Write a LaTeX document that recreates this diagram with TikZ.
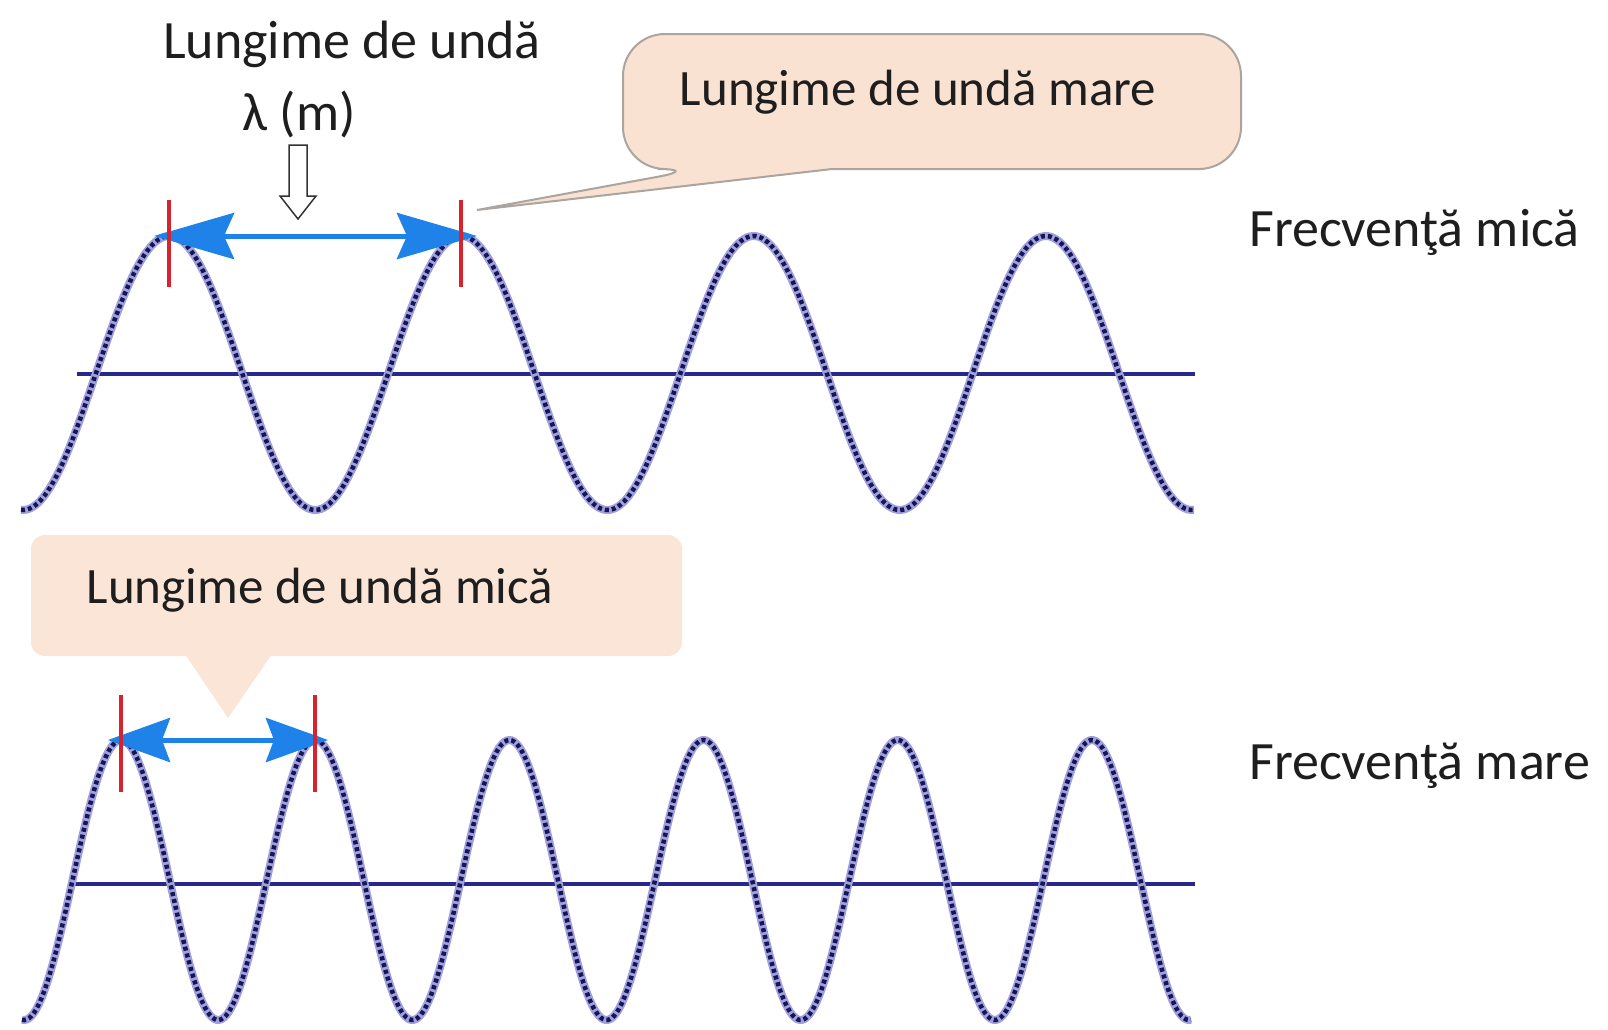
\documentclass[tikz,border=0pt]{standalone}
\usepackage{fontspec}
\setmainfont{Carlito}
\usetikzlibrary{arrows.meta}
\definecolor{navy}{RGB}{22,22,85}
\definecolor{wavelight}{RGB}{160,160,222}
\definecolor{midline}{RGB}{40,40,140}
\definecolor{arrowblue}{RGB}{30,130,232}
\definecolor{tickred}{RGB}{215,35,45}
\definecolor{peach}{RGB}{249,226,210}
\definecolor{peachsoft}{RGB}{251,229,214}
\definecolor{peachborder}{RGB}{172,164,158}
\definecolor{txtcol}{RGB}{30,30,30}
\begin{document}
\begin{tikzpicture}[x=1pt,y=-1pt,
  txt/.style={font=\fontsize{54}{60}\selectfont, text=txtcol, inner sep=0pt},
  ctxt/.style={font=\fontsize{51}{58}\selectfont, text=txtcol, inner sep=0pt},
  halo/.style={draw=wavelight, line width=8pt},
  dots/.style={draw=navy, line width=4.5pt, dash pattern=on 4pt off 3pt},
  axisline/.style={draw=midline, line width=3.2pt},
  tick/.style={draw=tickred, line width=4pt},
  bluearr/.style={draw=arrowblue, line width=5pt},
  callout/.style={fill=peach, draw=peachborder, line width=2pt},
  hollow/.style={fill=white, draw=black!80, line width=1.5pt}]
\useasboundingbox (0,0) rectangle (1608,1029);
\fill[white] (0,0) rectangle (1608,1029);

% ---------- top callout ----------
\draw[callout] (700,169) -- (477,210) -- (832,169) [rounded corners=42pt] -- (1241,169) -- (1241,34) -- (623,34) -- (623,169) -- cycle;
\node[ctxt, anchor=base] (c1) at (918,105) {Lungime de undă mare};

% ---------- bottom callout ----------
\fill[peachsoft, rounded corners=14pt] (31,535) rectangle (682,656);
\fill[peachsoft] (185,654) -- (228,718) -- (272,654) -- cycle;
\node[ctxt, anchor=base] (c2) at (320,603) {Lungime de undă mică};

% ---------- labels ----------
\node[txt, anchor=base] (title) at (352,58) {Lungime de undă};
\node[txt, anchor=base] (lam) at (299,130) {λ (m)};
\node[txt, anchor=base west] (f1) at (1249,246) {Frecvenţă mică};
\node[txt, anchor=base west] (f2) at (1249,779) {Frecvenţă mare};

% hollow arrow
\draw[hollow] (289,145) -- (307,145) -- (307,196) -- (316,196) -- (298,219) -- (280,196) -- (289,196) -- cycle;

% ---------- top wave ----------
\draw[axisline] (77,374) -- (1195,374);
\draw[halo] plot[domain=21:1194, samples=400, smooth] (\x, {373+137*cos((\x-23)*1.23182)});
\draw[dots] plot[domain=21:1194, samples=400, smooth] (\x, {373+137*cos((\x-23)*1.23182)});

% ---------- bottom wave ----------
\draw[axisline] (74,884) -- (1195,884);
\draw[halo] plot[domain=22:1191, samples=500, smooth] (\x, {880+140*cos((\x-24)*1.85405)});
\draw[dots] plot[domain=22:1191, samples=500, smooth] (\x, {880+140*cos((\x-24)*1.85405)});

% ---------- wavelength arrows ----------
\coordinate (a1) at (154,236);
\coordinate (a2) at (477,236);
\draw[bluearr, {Stealth[length=80pt,width=46pt,inset=10pt]}-{Stealth[length=80pt,width=46pt,inset=10pt]}] (a1) -- (a2);
\coordinate (b1) at (108,740);
\coordinate (b2) at (328,740);
\draw[bluearr, {Stealth[length=62pt,width=44pt,inset=8pt]}-{Stealth[length=62pt,width=44pt,inset=8pt]}] (b1) -- (b2);

% ---------- red ticks ----------
\coordinate (r1t) at (169,200); \coordinate (r1b) at (169,287);
\coordinate (r2t) at (461,200); \coordinate (r2b) at (461,287);
\draw[tick] (r1t) -- (r1b);
\draw[tick] (r2t) -- (r2b);
\coordinate (r3t) at (121,695); \coordinate (r3b) at (121,792);
\coordinate (r4t) at (315,695); \coordinate (r4b) at (315,792);
\draw[tick] (r3t) -- (r3b);
\draw[tick] (r4t) -- (r4b);
\end{tikzpicture}
\end{document}
